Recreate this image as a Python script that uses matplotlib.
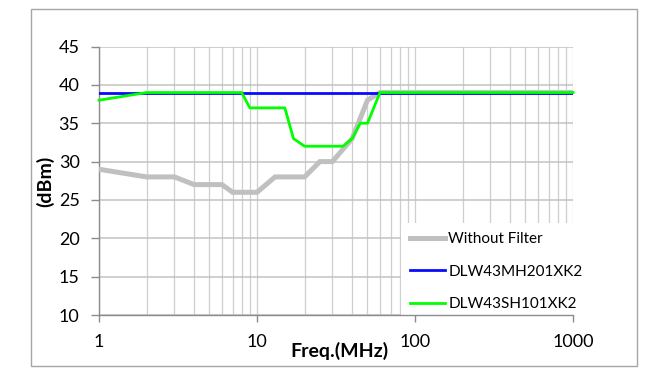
import matplotlib
matplotlib.use("Agg")
import matplotlib.pyplot as plt
from matplotlib.patches import Rectangle
from matplotlib.ticker import FixedLocator, LogLocator, NullFormatter

plt.rcParams['font.family'] = ['Lato', 'DejaVu Sans']

# data
freq_nf = [1, 2, 3, 4, 5, 6, 7, 8, 9, 10, 13, 20, 25, 30, 40, 50, 60, 1000]
level_nf = [29, 28, 28, 27, 27, 27, 26, 26, 26, 26, 28, 28, 30, 30, 33, 38, 39, 39]

freq_mh = [1, 1000]
level_mh = [39, 39]

freq_sh = [1, 2, 8, 9, 15, 17, 20, 35, 40, 45, 50, 60, 1000]
level_sh = [38, 39, 39, 37, 37, 33, 32, 32, 33, 35, 35, 39, 39]

labels = ['Without Filter', 'DLW43MH201XK2', 'DLW43SH101XK2']
colors = ['#c0c0c0', '#0a0aff', '#00ff00']
yticks = [10, 15, 20, 25, 30, 35, 40, 45]
xticks = [1, 10, 100, 1000]

fig = plt.figure(figsize=(6.7, 3.76), dpi=100)
ax = fig.add_axes([0.1478, 0.1622, 0.7075, 0.7141])

# outer border like the spreadsheet chart area
fig.patches.append(Rectangle((0.0463, 0.0266), 0.9045, 0.9495, transform=fig.transFigure,
                             fill=False, edgecolor='#a6a6a6', linewidth=1.0))

ax.plot(freq_nf, level_nf, color=colors[0], lw=3.6, label=labels[0], zorder=3, solid_joinstyle='miter')
ax.plot(freq_mh, level_mh, color=colors[1], lw=2.0, label=labels[1], zorder=4)
ax.plot(freq_sh, level_sh, color=colors[2], lw=2.0, label=labels[2], zorder=5, clip_on=False)

ax.set_xscale('log')
ax.set_xlim(1, 1000)
ax.set_ylim(10, 45)
ax.xaxis.set_major_locator(FixedLocator(xticks))
ax.set_xticklabels([str(t) for t in xticks])
ax.xaxis.set_minor_locator(LogLocator(base=10, subs=range(2, 10)))
ax.xaxis.set_minor_formatter(NullFormatter())
ax.set_yticks(yticks)

ax.set_axisbelow(True)
ax.grid(True, which='both', axis='x', color='#cfcfcf', lw=0.9)
ax.grid(True, which='major', axis='y', color='#c2c2c2', lw=1.1)

for s in ['top', 'right']:
    ax.spines[s].set_visible(False)
for s in ['left', 'bottom']:
    ax.spines[s].set_color('#8c8c8c')
    ax.spines[s].set_linewidth(1.0)

ax.tick_params(axis='y', which='major', length=6, width=1, color='#8c8c8c', pad=8, labelsize=13)
ax.tick_params(axis='x', which='major', length=5, width=1, color='#8c8c8c', pad=9, labelsize=13)
ax.tick_params(axis='x', which='minor', length=0)

# white block behind legend hiding grid lines
ax.add_patch(Rectangle((0.637, 0.0), 0.37, 0.3426, transform=ax.transAxes,
                       facecolor='white', edgecolor='none', zorder=1, clip_on=False))

leg = ax.legend(loc='upper left', bbox_to_anchor=(0.637, 0.3426), frameon=False,
                fontsize=11, handlelength=2.3, handletextpad=0.2, labelspacing=1.2,
                borderpad=0.6, borderaxespad=0)
leg.set_zorder(6)

fig.text(339 / 670, 1 - 351 / 376, 'Freq.(MHz)', ha='center', va='center',
         fontsize=14, fontweight='bold')
fig.text(45 / 670, 1 - 181.5 / 376, '(dBm)', ha='center', va='center',
         rotation=90, fontsize=14, fontweight='bold')

fig.savefig('out.png', dpi=100)
